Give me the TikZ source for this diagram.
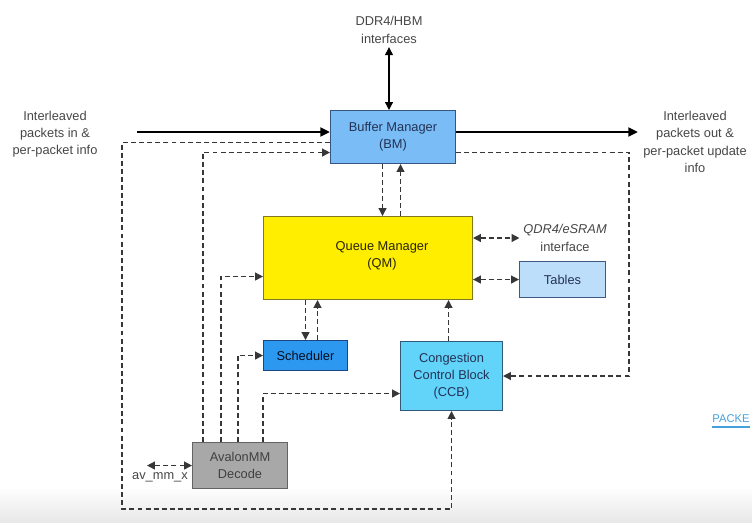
\documentclass[tikz,border=0pt]{standalone}
\usepackage{fontspec}
\setmainfont{Liberation Sans}
\usepackage{xcolor}
\usepackage{tikz}
\usetikzlibrary{positioning,arrows.meta,calc}
\definecolor{bmfill}{RGB}{122,188,245}
\definecolor{bmdraw}{RGB}{55,85,130}
\definecolor{qmfill}{RGB}{255,238,0}
\definecolor{qmdraw}{RGB}{130,120,30}
\definecolor{schfill}{RGB}{45,152,240}
\definecolor{schdraw}{RGB}{30,70,130}
\definecolor{ccbfill}{RGB}{98,212,250}
\definecolor{ccbdraw}{RGB}{50,90,120}
\definecolor{tabfill}{RGB}{188,222,250}
\definecolor{tabdraw}{RGB}{60,90,130}
\definecolor{avfill}{RGB}{168,168,168}
\definecolor{avdraw}{RGB}{100,100,100}
\definecolor{boxtext}{RGB}{35,50,85}
\definecolor{outtext}{RGB}{70,70,70}
\definecolor{dashgray}{RGB}{55,55,55}
\definecolor{pkblue}{RGB}{70,160,220}

\begin{document}
\begin{tikzpicture}[
  x=0.02cm, y=-0.02cm,
  >={Triangle[length=4.5pt,width=4.5pt]},
  every node/.style={font=\fontsize{7.3}{9.8}\selectfont, inner sep=2pt},
  block/.style={rectangle, anchor=north west, line width=0.6pt, align=center, text=boxtext},
  lbl/.style={align=center, text=outtext},
  ctl/.style={dashed, dash pattern=on 2.8pt off 1.8pt, line width=0.75pt, color=dashgray},
  flow/.style={-{Triangle[length=5.5pt,width=5pt]}, line width=1.6pt, color=black},
  bidi/.style={<->, line width=0.7pt, color=black}
]
  \useasboundingbox (0,0) rectangle (752,522);
  \shade[top color=white, bottom color=black!9] (0,486) rectangle (752,522);

  % blocks
  \node[block, draw=bmdraw, fill=bmfill, minimum width=2.5cm, minimum height=1.06cm] (bm) at (330,110) {Buffer Manager\\(BM)};
  \node[block, draw=qmdraw, fill=qmfill, minimum width=4.18cm, minimum height=1.66cm] (qm) at (263,216) {};
  \node[text=black!70!qmdraw, align=center] (qmtxt) at (382,256) {Queue Manager\\(QM)};
  \node[block, draw=schdraw, fill=schfill, minimum width=1.68cm, minimum height=0.6cm, text=black!80!schdraw] (sched) at (263,340) {Scheduler};
  \node[block, draw=ccbdraw, fill=ccbfill, minimum width=2.04cm, minimum height=1.38cm] (ccb) at (400,341) {Congestion\\Control Block\\(CCB)};
  \node[block, draw=tabdraw, fill=tabfill, minimum width=1.72cm, minimum height=0.72cm] (tables) at (519,261) {Tables};
  \node[block, draw=avdraw, fill=avfill, minimum width=1.9cm, minimum height=0.92cm, text=black!75] (avmm) at (192,442) {AvalonMM\\Decode};

  % outside labels
  \node[lbl] (ddr) at (389,30) {DDR4/HBM\\interfaces};
  \node[lbl] (pktinlbl) at (55,134) {Interleaved\\packets in \&\\per-packet info};
  \node[lbl] (pktoutlbl) at (695,142) {Interleaved\\packets out \&\\per-packet update\\info};
  \node[lbl] (qdr) at (565,238) {\itshape QDR4/eSRAM\\interface};
  \node[lbl] (avlbl) at (160,477) {av\_mm\_x};
  \node[anchor=west, text=pkblue, inner sep=0pt, font=\fontsize{6.4}{8}\selectfont] (pk) at (712,419) {PACKE};
  \draw[pkblue, line width=1pt] ([yshift=-2pt]pk.south west) -- ([yshift=-2pt]pk.south east);

  \coordinate (pktin) at (137,132);
  \coordinate (pktout) at (638,132);

  % data path
  \draw[flow] (pktin) -- (bm.west |- pktin);
  \draw[flow] (bm.east |- pktin) -- (pktout);
  \draw[bidi] (bm.north -| ddr.south) -- (ddr.south);

  % BM <-> QM
  \draw[ctl,->] ([xshift=-0.21cm]bm.south) -- ([xshift=-0.21cm]bm.south |- qm.north);
  \draw[ctl,->] ([xshift=0.15cm]bm.south |- qm.north) -- ([xshift=0.15cm]bm.south);

  % QM side interfaces
  \draw[ctl,<->] (qm.east |- qdr.west) -- (qdr.west);
  \draw[ctl,<->] (qm.east |- tables.west) -- (tables.west);

  % QM <-> scheduler, CCB -> QM
  \draw[ctl,->] (qm.south -| sched.north) -- (sched.north);
  \draw[ctl,->] ([xshift=0.24cm]sched.north) -- ([xshift=0.24cm]sched.north |- qm.south);
  \draw[ctl,->] ([xshift=-0.06cm]ccb.north) -- ([xshift=-0.06cm]ccb.north |- qm.south);

  % BM -> CCB
  \draw[ctl,->] ([yshift=-0.31cm]bm.east) -| ([xshift=2.52cm]ccb.east) -- (ccb.east);
  \draw[ctl,->] ([yshift=-0.11cm]bm.west) -| (122,509) -| (ccb.south);

  % AvalonMM config paths
  \draw[ctl,->] ([xshift=0.22cm]avmm.north west) |- ([yshift=-0.31cm]bm.west);
  \draw[ctl,->] ([xshift=0.58cm]avmm.north west) |- ([yshift=-0.37cm]qm.west);
  \draw[ctl,->] ([xshift=0.92cm]avmm.north west) |- (sched.west);
  \draw[ctl,->] ([xshift=1.42cm]avmm.north west) |- ([yshift=-0.35cm]ccb.west);
  \draw[ctl,<->] (avmm.west) -- ([xshift=-0.9cm]avmm.west);
\end{tikzpicture}
\end{document}
